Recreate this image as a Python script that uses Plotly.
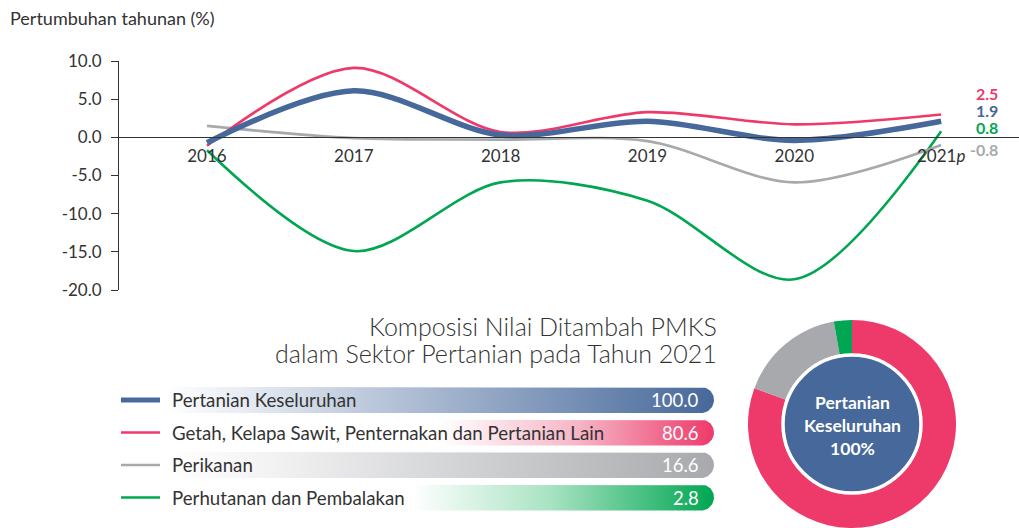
import numpy as np
import plotly.graph_objects as go

# ---------------- data ----------------
years = [2016, 2017, 2018, 2019, 2020, 2021]
year_labels = ["2016", "2017", "2018", "2019", "2020", "2021<i>p</i>"]
overall = [-0.7, 6.1, 0.3, 2.1, -0.4, 2.1]
getah = [-1.1, 9.1, 0.7, 3.3, 1.7, 3.0]
perikanan = [1.5, -0.1, -0.3, -0.5, -5.9, -1.0]
perhutanan = [-1.7, -14.9, -5.9, -8.3, -18.6, 0.8]
end_labels = ["2.5", "1.9", "0.8", "-0.8"]

y_ticks = [10, 5, 0, -5, -10, -15, -20]

series_names = ["Pertanian Keseluruhan",
                "Getah, Kelapa Sawit, Penternakan dan Pertanian Lain",
                "Perikanan",
                "Perhutanan dan Pembalakan"]
composition = [100.0, 80.6, 16.6, 2.8]

BLUE = "#46689A"
PINK = "#EE3A6A"
GREY = "#A7A9AC"
GREEN = "#00A651"
TXT = "#333333"
FONT = "Lato"

W, H = 1019, 528


def px_x(p):
    return p / W


def px_y(p):
    return 1 - p / H


fig = go.Figure()

# ---------------- line chart ----------------
ydom = [px_y(290), px_y(61)]
yr = [-20, 10]
zero_pos = ydom[0] + (0 - yr[0]) / (yr[1] - yr[0]) * (ydom[1] - ydom[0])

for vals, col, w in [(perhutanan, GREEN, 2.6), (perikanan, GREY, 2.6),
                     (getah, PINK, 2.6), (overall, BLUE, 5.5)]:
    fig.add_trace(go.Scatter(x=years, y=vals, mode="lines",
                             line=dict(color=col, width=w, shape="spline", smoothing=0.9),
                             hoverinfo="skip", showlegend=False, xaxis="x", yaxis="y"))

# ---------------- pixel overlay (legend bars) ----------------
bar_left, bar_right = 165, 714
row_centres = [400, 432.5, 465, 497.5]
bar_h = 26
colors = [BLUE, PINK, GREY, GREEN]
scales = [
    [[0, "#FFFFFF"], [0.15, "#E6EBF2"], [1, BLUE]],
    [[0, "#FFFFFF"], [0.5, "#FFFFFF"], [0.75, "#F6B6C7"], [1, PINK]],
    [[0, "#FFFFFF"], [0.2, "#F2F2F3"], [1, GREY]],
    [[0, "#FFFFFF"], [0.45, "#FFFFFF"], [0.7, "#A9E3C3"], [1, GREEN]],
]

for i, cy in enumerate(row_centres):
    r = bar_h / 2
    th = np.linspace(-np.pi / 2, np.pi / 2, 30)
    xs = [bar_left] + list(bar_right - r + r * np.cos(th)) + [bar_left, bar_left]
    ys = [cy - r] + list(cy + r * np.sin(th)) + [cy + r, cy - r]
    fig.add_trace(go.Scatter(x=xs, y=ys, mode="lines", fill="toself",
                             line=dict(width=0, color="rgba(0,0,0,0)"),
                             fillgradient=dict(type="horizontal", colorscale=scales[i]),
                             hoverinfo="skip", showlegend=False, xaxis="x2", yaxis="y2"))
    # legend swatch
    fig.add_trace(go.Scatter(x=[121, 160], y=[cy, cy], mode="lines",
                             line=dict(color=colors[i], width=5 if i == 0 else 2.5),
                             hoverinfo="skip", showlegend=False, xaxis="x2", yaxis="y2"))

annotations = []
for i, cy in enumerate(row_centres):
    annotations.append(dict(x=170, y=cy, xref="x2", yref="y2", text=series_names[i],
                            showarrow=False, xanchor="left", yanchor="middle",
                            font=dict(family=FONT, size=18.7, color=TXT)))
    annotations.append(dict(x=701, y=cy, xref="x2", yref="y2", text=f"{composition[i]:.1f}",
                            showarrow=False, xanchor="right", yanchor="middle",
                            font=dict(family=FONT, size=18.5, color="white")))

# titles
annotations.append(dict(x=8, y=18, xref="x2", yref="y2", text="Pertumbuhan tahunan (%)",
                        showarrow=False, xanchor="left", yanchor="middle",
                        font=dict(family=FONT, size=18, color=TXT)))
annotations.append(dict(x=719, y=326, xref="x2", yref="y2", text="Komposisi Nilai Ditambah PMKS",
                        showarrow=False, xanchor="right", yanchor="middle",
                        font=dict(family=FONT, size=25, color=TXT, weight=300)))
annotations.append(dict(x=719, y=353, xref="x2", yref="y2",
                        text="dalam Sektor Pertanian pada Tahun 2021",
                        showarrow=False, xanchor="right", yanchor="middle",
                        font=dict(family=FONT, size=25, color=TXT, weight=300)))

# end labels
for txt, col, yy in zip(end_labels, [PINK, BLUE, GREEN, GREY], [93, 110.5, 127.5, 149]):
    annotations.append(dict(x=1000, y=yy, xref="x2", yref="y2", text=f"<b>{txt}</b>",
                            showarrow=False, xanchor="right", yanchor="middle",
                            font=dict(family=FONT, size=16, color=col)))

# donut centre text
annotations.append(dict(x=852, y=425, xref="x2", yref="y2",
                        text="<b>Pertanian<br>Keseluruhan<br>100%</b>",
                        showarrow=False, xanchor="center", yanchor="middle",
                        font=dict(family=FONT, size=17.5, color="white")))

# ---------------- donut ----------------
cx, cy0, R = 852, 424, 104
fig.add_trace(go.Pie(values=composition[1:], labels=series_names[1:],
                     marker=dict(colors=[PINK, GREY, GREEN], line=dict(width=0)),
                     hole=0.67, sort=False, direction="clockwise", rotation=0,
                     textinfo="none", hoverinfo="skip", showlegend=False,
                     domain=dict(x=[px_x(cx - R), px_x(cx + R)],
                                 y=[px_y(cy0 + R), px_y(cy0 - R)])))
r2 = 69
fig.add_trace(go.Pie(values=[composition[0]], labels=[series_names[0]],
                     marker=dict(colors=[BLUE], line=dict(width=3.5, color="white")),
                     sort=False, textinfo="none", hoverinfo="skip", showlegend=False,
                     domain=dict(x=[px_x(cx - r2), px_x(cx + r2)],
                                 y=[px_y(cy0 + r2), px_y(cy0 - r2)])))

fig.update_layout(
    template="none",
    width=W, height=H, autosize=False,
    margin=dict(l=0, r=0, t=0, b=0, pad=0, autoexpand=False),
    paper_bgcolor="white", plot_bgcolor="rgba(0,0,0,0)",
    showlegend=False,
    font=dict(family=FONT, color=TXT),
    xaxis=dict(domain=[px_x(118), 1], range=[2015.394, 2021.53],
               anchor="free", position=zero_pos, automargin=False,
               tickvals=years, ticktext=year_labels, ticks="",
               showline=True, linecolor=TXT, linewidth=1,
               showgrid=False, zeroline=False,
               tickfont=dict(family=FONT, size=17, color=TXT), ticklabelstandoff=3),
    yaxis=dict(domain=ydom, range=yr, anchor="free", position=px_x(118), automargin=False,
               tickvals=y_ticks, ticktext=[f"{v:.1f}" for v in y_ticks],
               ticks="outside", ticklen=7, tickcolor=TXT, tickwidth=1,
               showline=True, linecolor=TXT, linewidth=1,
               showgrid=False, zeroline=False, ticklabelstandoff=6,
               tickfont=dict(family=FONT, size=17, color=TXT)),
    xaxis2=dict(domain=[0, 1], range=[0, W], visible=False, anchor="y2",
                fixedrange=True, automargin=False),
    yaxis2=dict(domain=[0, 1], range=[H, 0], visible=False, anchor="x2",
                fixedrange=True, automargin=False),
    annotations=annotations,
)

fig.write_html("out.html",
               config={"displayModeBar": False},
               post_script="document.body.style.margin='0';document.body.style.padding='0';"
                           "document.body.style.overflow='hidden';")
